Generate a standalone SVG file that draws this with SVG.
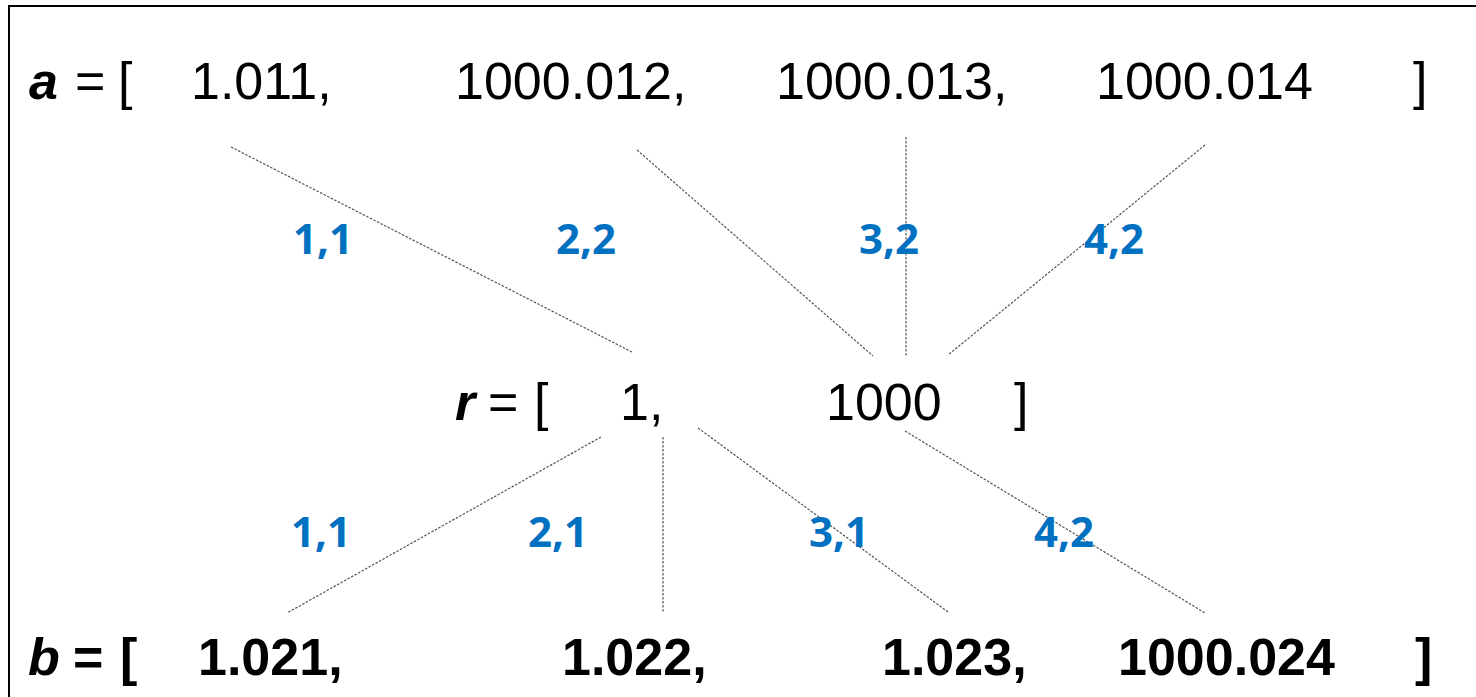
<svg xmlns="http://www.w3.org/2000/svg" width="1476" height="697" viewBox="0 0 1476 697">
<style>
.t{font-family:"Liberation Sans",Arial,sans-serif;font-size:52px;fill:#000}
.b{font-weight:bold}
.i{font-style:italic;font-weight:bold}
.lbl{font-family:"Open Sans","Noto Sans",sans-serif;font-weight:bold;font-size:42px;fill:#0070C0;text-anchor:middle}
.c{stroke:#555;stroke-width:1.2;stroke-dasharray:2.5 1.5;fill:none}
</style>
<rect x="0" y="0" width="1476" height="697" fill="#fff"/>
<rect x="9" y="6" width="1490" height="720" fill="none" stroke="#000" stroke-width="2"/>
<g id="connectors">
<line class="c" x1="231" y1="147" x2="632" y2="352"/>
<line class="c" x1="637" y1="150" x2="873" y2="356"/>
<line class="c" x1="906" y1="137" x2="906" y2="356"/>
<line class="c" x1="1205" y1="145" x2="948" y2="355"/>
<line class="c" x1="601" y1="437" x2="287" y2="613"/>
<line class="c" x1="663" y1="437" x2="663" y2="612"/>
<line class="c" x1="698" y1="428" x2="948" y2="612"/>
<line class="c" x1="905" y1="431" x2="1205" y2="613"/>
</g>
<g id="row-a">
<text class="t i" x="29" y="99">a</text>
<text class="t" x="75" y="99">=</text>
<text class="t" x="118" y="99">[</text>
<text class="t" x="191" y="99">1.011,</text>
<text class="t" x="455" y="99">1000.012,</text>
<text class="t" x="776" y="99">1000.013,</text>
<text class="t" x="1096" y="99">1000.014</text>
<text class="t" x="1413" y="99">]</text>
</g>
<g id="row-r">
<text class="t i" x="455" y="420">r</text>
<text class="t" x="488" y="420">=</text>
<text class="t" x="534" y="420">[</text>
<text class="t" x="620" y="420">1,</text>
<text class="t" x="826" y="420">1000</text>
<text class="t" x="1014" y="420">]</text>
</g>
<g id="row-b">
<text class="t i" x="28" y="675">b</text>
<text class="t b" x="73" y="675">=</text>
<text class="t b" x="120" y="675">[</text>
<text class="t b" x="198" y="675">1.021,</text>
<text class="t b" x="562" y="675">1.022,</text>
<text class="t b" x="882" y="675">1.023,</text>
<text class="t b" x="1118" y="675">1000.024</text>
<text class="t b" x="1415" y="675">]</text>
</g>
<g id="labels-top">
<text class="lbl" x="323" y="254">1,1</text>
<text class="lbl" x="586" y="254">2,2</text>
<text class="lbl" x="889" y="254">3,2</text>
<text class="lbl" x="1114" y="254">4,2</text>
</g>
<g id="labels-bottom">
<text class="lbl" x="321" y="547">1,1</text>
<text class="lbl" x="558" y="547">2,1</text>
<text class="lbl" x="839" y="547">3,1</text>
<text class="lbl" x="1064" y="547">4,2</text>
</g>
</svg>
